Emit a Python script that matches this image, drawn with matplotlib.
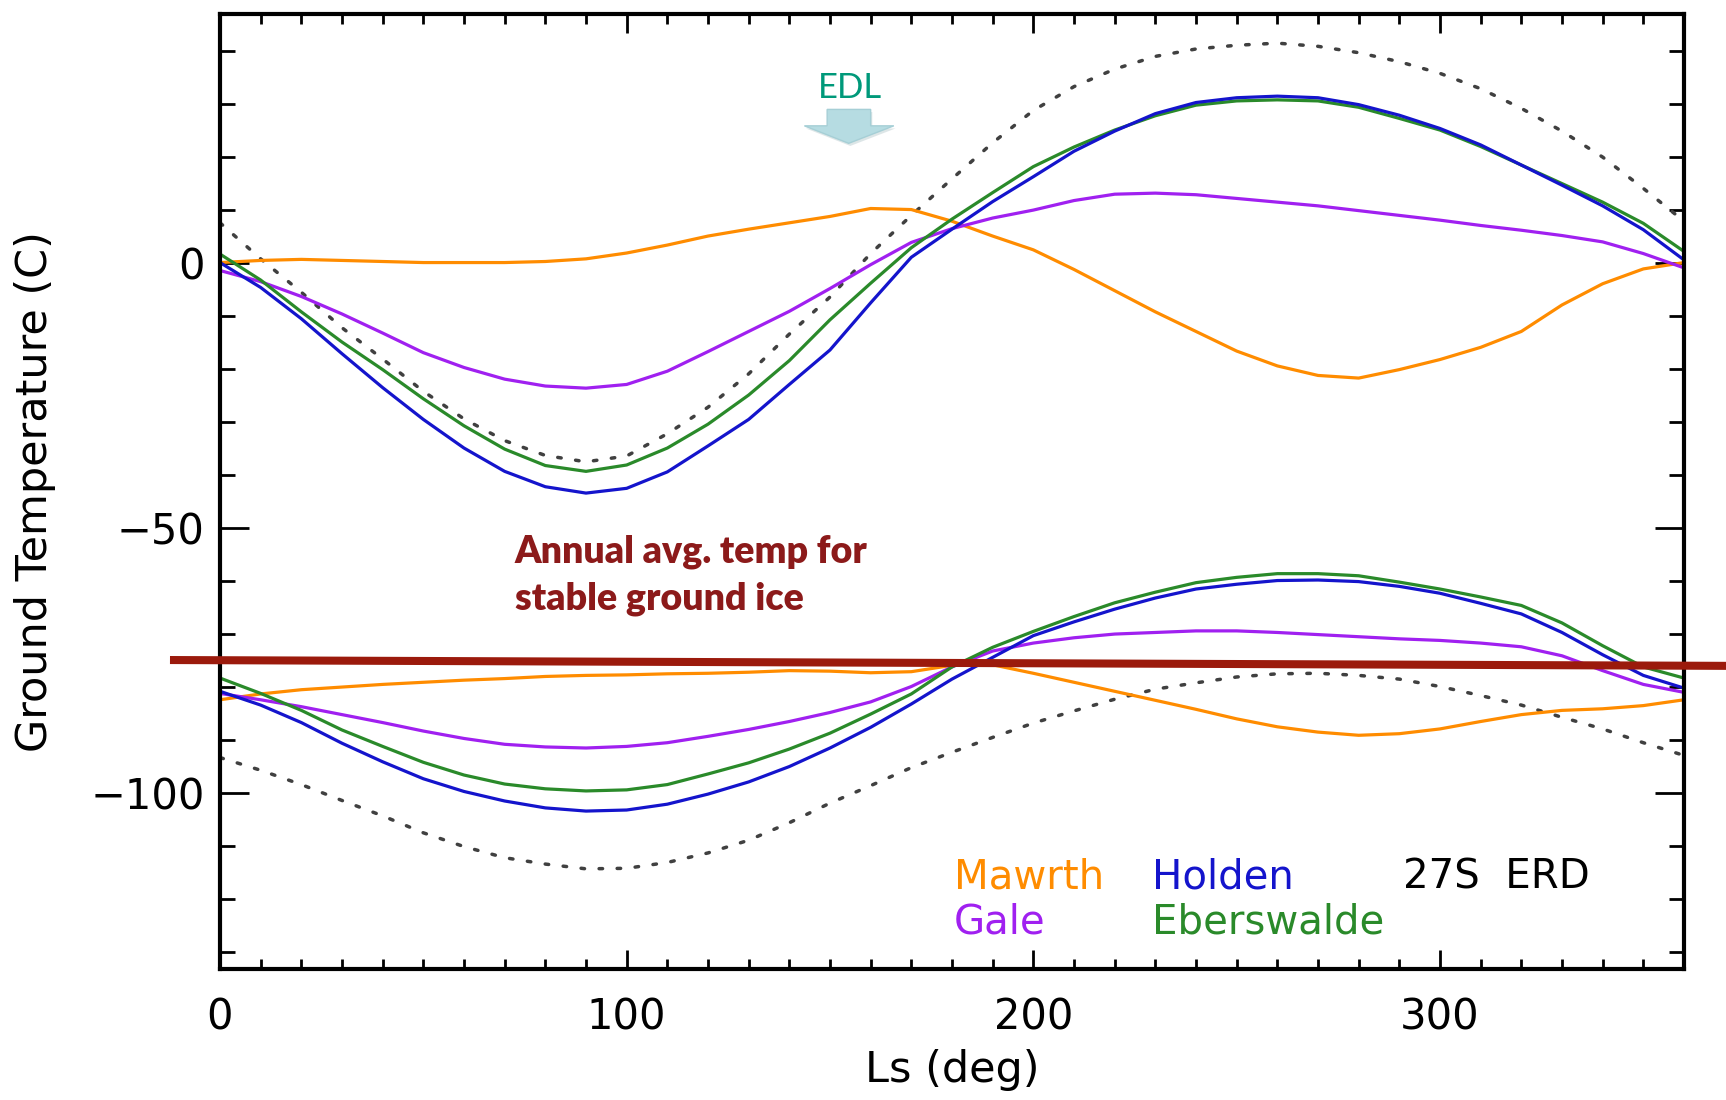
import matplotlib
matplotlib.use("Agg")
import matplotlib.pyplot as plt
from matplotlib.patches import Polygon
from matplotlib.ticker import MultipleLocator

# ---------------- data ----------------
ls_deg = [0, 10, 20, 30, 40, 50, 60, 70, 80, 90, 100, 110, 120, 130, 140, 150,
          160, 170, 180, 190, 200, 210, 220, 230, 240, 250, 260, 270, 280, 290,
          300, 310, 320, 330, 340, 350, 360]

# upper group (maximum ground temperatures)
mawrth_max = [0, 0.4, 0.6, 0.4, 0.2, 0, 0, 0, 0.2, 0.7, 1.8, 3.3, 5.0, 6.3, 7.5, 8.7,
              10.2, 10.0, 7.8, 5.0, 2.4, -1.3, -5.3, -9.3, -13.0, -16.7, -19.5, -21.3,
              -21.8, -20.2, -18.3, -16.0, -13.0, -8.0, -4.0, -1.2, 0]
gale_max = [-1.5, -3.6, -6.4, -9.7, -13.3, -17.0, -19.8, -22.0, -23.3, -23.7, -23.0,
            -20.5, -16.8, -13.0, -9.2, -4.9, -0.4, 3.8, 6.4, 8.4, 9.9, 11.7, 12.9, 13.1,
            12.8, 12.1, 11.4, 10.7, 9.8, 8.9, 8.0, 7.0, 6.1, 5.1, 3.9, 1.7, -1.0]
eberswalde_max = [1.6, -3.3, -9.3, -15.0, -20.2, -25.7, -30.8, -35.2, -38.3, -39.4,
                  -38.2, -35.0, -30.5, -25.0, -18.5, -10.8, -3.9, 2.8, 8.2, 13.2, 18.1,
                  21.8, 25.0, 27.7, 29.7, 30.5, 30.7, 30.5, 29.3, 27.2, 25.0, 21.9, 18.4,
                  14.9, 11.4, 7.4, 2.1]
holden_max = [0, -4.7, -10.6, -17.2, -23.6, -29.6, -35.0, -39.4, -42.3, -43.5, -42.6,
              -39.5, -34.6, -29.6, -23.0, -16.5, -7.6, 1.0, 6.3, 11.5, 16.2, 21.0, 24.8,
              28.1, 30.2, 31.1, 31.4, 31.1, 29.8, 27.8, 25.3, 22.2, 18.4, 14.6, 10.7, 6.2,
              0.5]
erd27s_max = [7.5, 0.7, -5.6, -12.3, -18.2, -24.3, -29.5, -33.6, -36.4, -37.6, -36.5,
              -32.3, -27.3, -21.0, -13.5, -6.5, 1.7, 8.9, 15.8, 22.6, 28.7, 33.2, 36.5,
              38.9, 40.3, 41.0, 41.4, 40.8, 39.6, 37.9, 35.7, 32.8, 29.1, 24.8, 19.9,
              14.0, 7.8]

# lower group (minimum ground temperatures)
mawrth_min = [-82.5, -81.4, -80.6, -80.1, -79.6, -79.2, -78.8, -78.5, -78.1, -77.9,
              -77.8, -77.6, -77.5, -77.3, -77.0, -77.1, -77.4, -77.2, -76.0, -75.9,
              -77.5, -79.2, -80.9, -82.6, -84.3, -86.1, -87.6, -88.6, -89.2, -88.9,
              -88.0, -86.6, -85.3, -84.5, -84.2, -83.6, -82.5]
gale_min = [-81.3, -82.5, -83.8, -85.3, -86.8, -88.4, -89.8, -90.9, -91.4, -91.6, -91.3,
            -90.6, -89.4, -88.1, -86.6, -84.9, -82.9, -80.0, -76.3, -73.3, -71.8, -70.8,
            -70.1, -69.8, -69.5, -69.5, -69.8, -70.2, -70.6, -71.0, -71.3, -71.8, -72.5,
            -74.2, -77.0, -79.6, -81.1]
eberswalde_min = [-78.4, -81.3, -84.5, -88.2, -91.3, -94.3, -96.7, -98.4, -99.3, -99.7,
                  -99.5, -98.5, -96.5, -94.4, -91.8, -88.8, -85.2, -81.4, -76.3, -72.6,
                  -69.6, -66.8, -64.2, -62.2, -60.4, -59.4, -58.7, -58.7, -59.1, -60.3,
                  -61.6, -63.1, -64.7, -68.0, -72.3, -76.3, -78.4]
holden_min = [-80.9, -83.5, -86.8, -90.7, -94.2, -97.4, -99.8, -101.6, -102.9, -103.5,
              -103.3, -102.2, -100.3, -98.0, -95.1, -91.6, -87.7, -83.3, -78.6, -74.5,
              -70.4, -67.8, -65.4, -63.3, -61.6, -60.7, -60.0, -59.9, -60.2, -61.1,
              -62.4, -64.3, -66.3, -69.8, -74.0, -77.9, -80.3]
erd27s_min = [-93.4, -95.8, -98.5, -101.5, -104.4, -107.6, -110.2, -112.3, -113.5,
              -114.4, -114.3, -113.2, -111.4, -109.0, -105.7, -102.0, -98.7, -95.3,
              -92.4, -89.6, -86.9, -84.6, -82.4, -80.5, -79.3, -78.2, -77.6, -77.5,
              -77.9, -78.6, -80.0, -81.7, -83.5, -85.8, -88.0, -90.6, -93.0]

# threshold line: annual average temperature for stable ground ice
ice_line_ls = [-12.3, 371.0]
ice_line_temp = [-75.0, -76.1]

site_names = ["Mawrth", "Holden", "27S  ERD", "Gale", "Eberswalde"]
x_ticks = [0, 100, 200, 300]
y_ticks = [-100, -50, 0]

# ---------------- styling ----------------
plt.rcParams['font.family'] = ['DejaVu Sans']
c_orange = '#FF8C00'
c_blue = '#1414CC'
c_purple = '#A020F0'
c_green = '#2A8A2A'
c_dot = '#404040'
c_red = '#9B1A0C'
c_text_red = '#8C1A1A'
c_edl = '#00997A'

fig = plt.figure(figsize=(17.26, 11.0), dpi=100)
ax = fig.add_axes([0.12746, 0.11909, 0.84820, 0.86818])

lw = 2.3
dot_style = (0, (1, 4.2))
ax.plot(ls_deg, erd27s_max, color=c_dot, lw=2.5, linestyle=dot_style, dash_capstyle='round')
ax.plot(ls_deg, erd27s_min, color=c_dot, lw=2.5, linestyle=dot_style, dash_capstyle='round')
for series, col in [(mawrth_max, c_orange), (gale_max, c_purple),
                    (eberswalde_max, c_green), (holden_max, c_blue),
                    (mawrth_min, c_orange), (gale_min, c_purple),
                    (eberswalde_min, c_green), (holden_min, c_blue)]:
    ax.plot(ls_deg, series, color=col, lw=lw, solid_joinstyle='round')

ax.plot(ice_line_ls, ice_line_temp, color=c_red, lw=5.8, clip_on=False,
        solid_capstyle='butt', zorder=5)

ax.set_xlim(0, 360)
ax.set_ylim(-133.3, 46.9)
ax.set_xticks(x_ticks)
ax.set_yticks(y_ticks)
ax.xaxis.set_minor_locator(MultipleLocator(10))
ax.yaxis.set_minor_locator(MultipleLocator(10))

ax.tick_params(axis='x', which='major', direction='in', length=13.7, width=2,
               top=True, bottom=True, labelsize=30, pad=20)
ax.tick_params(axis='x', which='minor', direction='in', length=6.9, width=2,
               top=True, bottom=True)
ax.tick_params(axis='y', which='major', direction='in', length=21, width=2,
               left=True, right=True, labelsize=30, pad=11)
ax.tick_params(axis='y', which='minor', direction='in', length=10.5, width=2,
               left=True, right=True)
for sp in ax.spines.values():
    sp.set_linewidth(3)

ax.set_xlabel('Ls (deg)', fontsize=31, va='center')
ax.xaxis.set_label_coords(0.5, -0.1058)
ax.set_ylabel('Ground Temperature (C)', fontsize=31, va='center')
ax.yaxis.set_label_coords(-0.1265, 0.5)

# legend as coloured text
leg_items = [(site_names[0], c_orange, 180.5, -118.1),
             (site_names[1], c_blue, 229.3, -118.1),
             (site_names[2], 'black', 290.8, -118.1),
             (site_names[3], c_purple, 180.5, -126.6),
             (site_names[4], c_green, 229.3, -126.6)]
for name, col, x, y in leg_items:
    ax.text(x, y, name, color=col, fontsize=29, ha='left', va='baseline')

# annotation for the ice line (anchored at the baseline of the last line)
ax.text(72.5, -65.4, 'Annual avg. temp for\nstable ground ice', color=c_text_red,
        fontsize=27, fontweight='heavy', family=['Lato', 'DejaVu Sans'],
        ha='left', va='baseline', linespacing=1.45)

# EDL marker with arrow
ax.text(154.9, 31.0, 'EDL', color=c_edl, fontsize=25, family=['Lato', 'DejaVu Sans'],
        ha='center', va='baseline')
arrow_xy = [(149.3, 28.9), (160.0, 28.9), (160.0, 25.8), (165.7, 25.8),
            (154.6, 22.5), (143.7, 25.8), (149.3, 25.8)]
shadow_xy = [(x + 0.4, y - 0.5) for x, y in arrow_xy]
ax.add_patch(Polygon(shadow_xy, closed=True, facecolor='#7A9CA3', alpha=0.25,
                     edgecolor='none', zorder=3))
ax.add_patch(Polygon(arrow_xy, closed=True, facecolor='#B6DCE2', edgecolor='#A6CFD6',
                     lw=1, zorder=4))

fig.savefig('out.png', dpi=100, facecolor='white')
